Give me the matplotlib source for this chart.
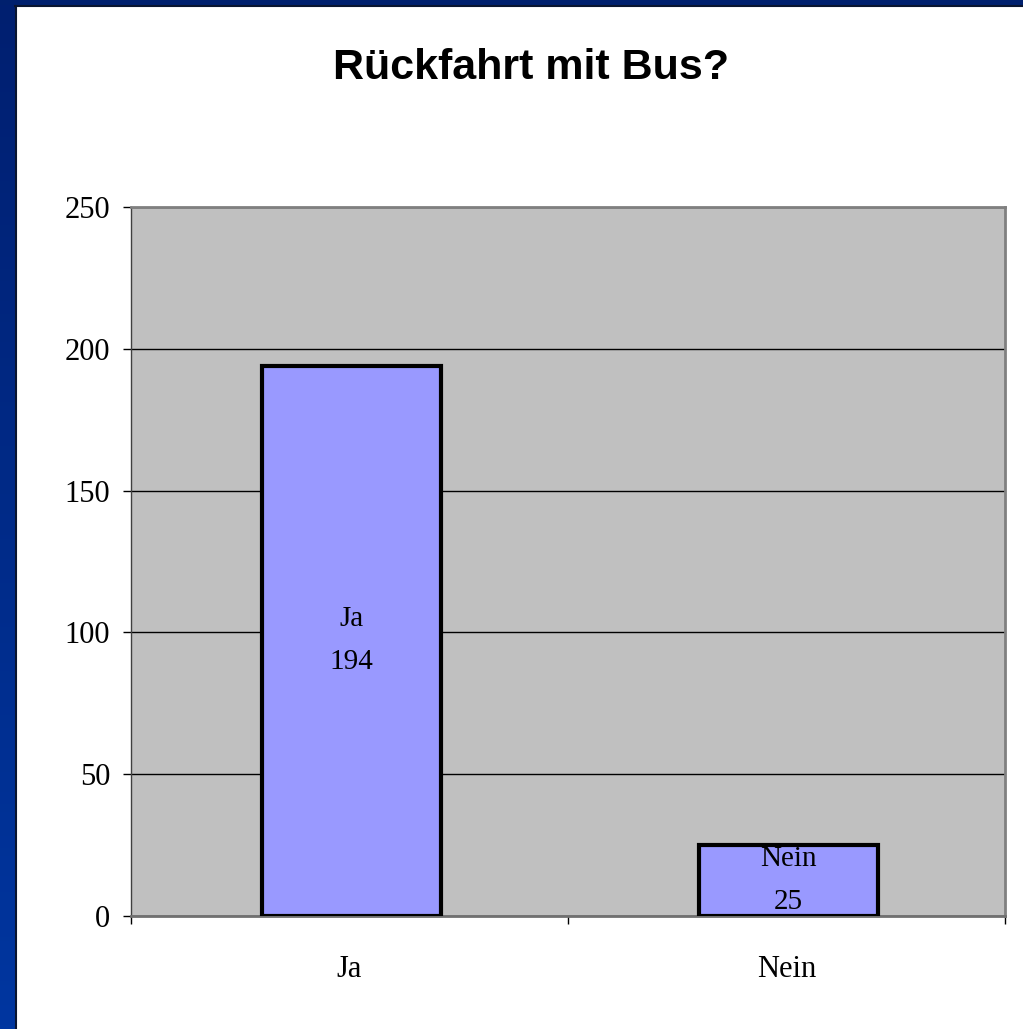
import numpy as np
import matplotlib.pyplot as plt

# answers to the question in the title
categories = ['Ja', 'Nein']
counts = [194, 25]
yticks = [0, 50, 100, 150, 200, 250]

W, H = 1023, 1029
fig = plt.figure(figsize=(W / 100, H / 100), dpi=100)
fig.patch.set_facecolor('white')

# blue slide frame on the left and top edge
bg = fig.add_axes([0, 0, 1, 1], zorder=-5)
bg.set_xlim(0, W)
bg.set_ylim(H, 0)
bg.axis('off')
grad = np.linspace(0, 1, 256).reshape(-1, 1)
cmap = plt.matplotlib.colors.LinearSegmentedColormap.from_list('frame', ['#001f70', '#0036a0'])
bg.imshow(grad, cmap=cmap, extent=[0, 15, H, 0], aspect='auto')
bg.add_patch(plt.Rectangle((0, 0), W, 5, color='#00206e', lw=0))
bg.plot([15.5, 15.5], [6, H], color='#0a1530', lw=1.5)
bg.plot([15, W], [6, 6], color='#0a1530', lw=1.5)

fig.text(0.519, 1 - 68 / H, 'Rückfahrt mit Bus?', ha='center', va='center',
         fontsize=31, fontweight='bold', family='Liberation Sans')

ax = fig.add_axes([131 / W, 1 - 916 / H, (1005 - 131) / W, (916 - 207) / H])
ax.set_facecolor('#c0c0c0')
x = np.arange(len(categories))
bars = ax.bar(x + 0.005, counts, width=0.41, color='#9999ff', edgecolor='black',
              linewidth=3, zorder=3)
for xi, cat, val in zip(x, categories, counts):
    ax.text(xi + 0.005, val / 2, cat + '\n' + str(val), ha='center', va='center',
            fontsize=21, family='Liberation Serif', linespacing=1.85, zorder=4)

ax.set_xlim(-0.5, len(categories) - 0.5)
ax.set_ylim(0, 250)
ax.set_yticks(yticks)
ax.set_yticklabels([str(t) for t in yticks], family='Liberation Serif', fontsize=22)
ax.yaxis.grid(True, color='black', linewidth=1, zorder=1)
ax.set_axisbelow(True)

# category separators as ticks, labels centred between them
ax.set_xticks(np.arange(len(categories) + 1) - 0.5)
ax.set_xticklabels([])
ax.set_xticks(x, minor=True)
ax.set_xticklabels(categories, minor=True, family='Liberation Serif', fontsize=22)
ax.tick_params(axis='x', which='minor', length=0, pad=28)
ax.tick_params(axis='x', which='major', length=6, direction='out', width=1)
ax.tick_params(axis='y', length=6, direction='out', width=1, pad=9)

for s in ['top', 'right']:
    ax.spines[s].set_color('#808080')
    ax.spines[s].set_linewidth(2)
ax.spines['bottom'].set_color('#707070')
ax.spines['bottom'].set_linewidth(2)
ax.spines['left'].set_color('#404040')
ax.spines['left'].set_linewidth(1)

fig.savefig('out.png', dpi=100)
